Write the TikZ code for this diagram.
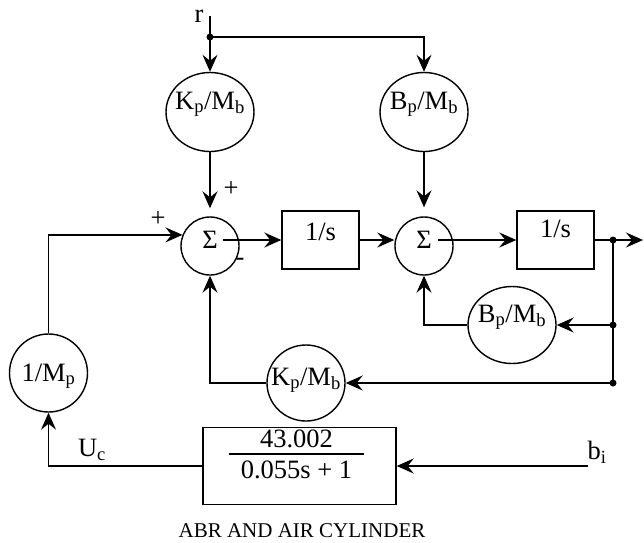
\documentclass[tikz,border=0pt]{standalone}
\usepackage{fontspec}
\setmainfont{Liberation Serif}
\usetikzlibrary{arrows.meta, shapes.geometric}

\begin{document}
\begin{tikzpicture}[x=1pt, y=-1pt, line width=1.4pt,
    font=\fontsize{26.5}{29.5}\selectfont,
    arr/.style={-{Stealth[length=17pt, width=15pt, inset=6pt]}},
    sumnode/.style={draw, circle, minimum size=58pt, inner sep=0pt, text height=17pt, text depth=12pt},
    gain/.style={draw, ellipse, inner ysep=0pt, inner xsep=-6pt, minimum width=88pt, minimum height=79pt, text height=18pt, text depth=24pt},
    block/.style={draw, rectangle, inner sep=0pt, minimum width=77pt, minimum height=58pt, text height=17pt, text depth=16pt}]
    \useasboundingbox (0,0) rectangle (644,542);
    \coordinate (rtop) at (210,16);
    \coordinate (rdot) at (210,37);
    \coordinate (sao) at (223,240);
    \coordinate (sbo) at (438,240);
    \coordinate (ta) at (613,240);
    \coordinate (tb) at (613,325);
    \coordinate (tc) at (613,383);
    \coordinate (yend) at (643,240);
    \coordinate (bin) at (588,466);
    \node (rlab) at (199,16) {r};
    \node[gain] (kpt) at (210,112) {K\textsubscript{p}/M\textsubscript{b}};
    \node[gain] (bpt) at (424,112) {B\textsubscript{p}/M\textsubscript{b}};
    \node[sumnode] (suma) at (210,246) {Σ};
    \node[sumnode] (sumb) at (424,246) {Σ};
    \node[block] (inta) at (320.5,240) {1/s};
    \node[block, text depth=22pt] (intb) at (555.5,240) {1/s};
    \node[gain, minimum height=77pt] (bpf) at (512,325) {B\textsubscript{p}/M\textsubscript{b}};
    \node[gain, minimum width=78pt, minimum height=76pt, inner xsep=-12pt, text depth=14pt] (kpf) at (306,383) {K\textsubscript{p}/M\textsubscript{b}};
    \node[gain, minimum width=78pt, minimum height=78pt, text depth=2pt] (mp) at (48.5,373) {1/M\textsubscript{p}};
    \node[draw, minimum width=193pt, minimum height=77pt] (abr) at (299.5,466) {};
    \node (abrtf) at (296.5,457) {\setlength\arrayrulewidth{1.5pt}\setlength\tabcolsep{12pt}\begin{tabular}{c}43.002\\[-3pt]\hline\rule{0pt}{24pt}0.055s + 1\end{tabular}};
    \node[font=\fontsize{21}{24}\selectfont] (abrlab) at (302,531) {ABR AND AIR CYLINDER};
    \node (uc) at (92,450) {U\textsubscript{c}};
    \node (bi) at (597,452) {b\textsubscript{i}};
    \node (pa) at (231,189) {+};
    \node (pb) at (158,219) {+};
    \node (ma) at (240,262) {-};
    \draw (rtop) -- (rdot);
    \draw[arr] (rdot) -- (kpt);
    \draw[arr] (rdot) -| (bpt);
    \draw[arr, shorten >=8pt] (kpt) -- (suma);
    \draw[arr, shorten >=9pt] (bpt) -- (sumb);
    \draw[arr] (mp) |- (suma.158);
    \draw[arr] (sao) -- (inta);
    \draw[arr] (inta.east) -- (inta.east -| sumb.west);
    \draw[arr] (sbo) -- (intb.west);
    \draw[arr] (intb) -- (yend);
    \draw (ta) -- (tc);
    \draw[arr] (tb) -- (bpf);
    \draw[arr] (tc) -- (kpf);
    \draw[arr] (bpf) -| (sumb);
    \draw[arr] (kpf) -| (suma);
    \draw[arr] (abr) -| (mp);
    \draw[arr] (bin) -- (abr);
    \fill (rdot) circle (3.5pt);
    \fill (ta) circle (3.5pt);
    \fill (tb) circle (3.5pt);
    \fill (tc) circle (3.5pt);
\end{tikzpicture}
\end{document}
